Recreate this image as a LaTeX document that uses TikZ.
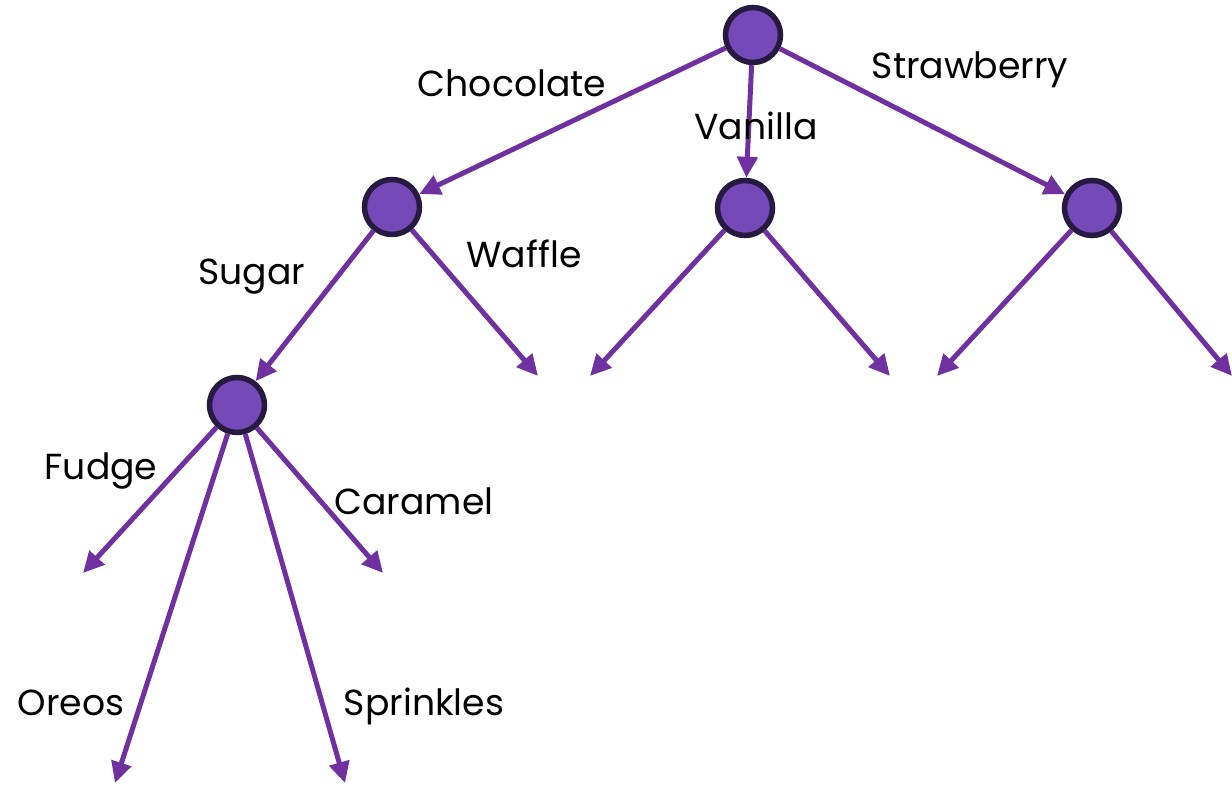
\documentclass[tikz,border=0pt]{standalone}
\usepackage{fontspec}
\setmainfont{Poppins}
\usetikzlibrary{arrows.meta}

\definecolor{edgepurple}{RGB}{112,48,160}
\definecolor{nodefill}{RGB}{117,73,184}
\definecolor{nodeline}{RGB}{38,26,64}

\begin{document}
\begin{tikzpicture}[
		x=0.02cm, y=-0.02cm,
		% estilos del arbol
		vertex/.style = {draw=nodeline, fill=nodefill, circle, line width=0.11cm, minimum size=1.1cm, inner sep=0pt},
		edge/.style = {draw=edgepurple, line width=0.1cm, -{Triangle[length=0.42cm, width=0.4cm]}},
		flavor/.style = {anchor=base, font=\fontsize{20.6}{24}\selectfont, inner sep=0pt}
		]
		\useasboundingbox (0,0) rectangle (1232,786);
		
		% --- NODOS ---
		\node [vertex] (root) at (753,35) {};
		\node [vertex] (choc) at (392,207) {};
		\node [vertex] (vani) at (745,208) {};
		\node [vertex] (straw) at (1092,208) {};
		\node [vertex] (sugar) at (237,405) {};
		
		% Hojas (extremos libres)
		\coordinate (waffle) at (538,376);
		\coordinate (vani_l) at (590,376);
		\coordinate (vani_r) at (890,376);
		\coordinate (straw_l) at (937,376);
		\coordinate (straw_r) at (1232,376);
		\coordinate (fudge) at (83,573);
		\coordinate (oreos) at (115,783);
		\coordinate (sprink) at (345,783);
		\coordinate (caramel) at (383,573);
		
		% --- CONEXIONES ---
		\draw [edge] (root) -- (choc);
		\draw [edge] (root) -- (vani);
		\draw [edge] (root) -- (straw);
		\draw [edge] (choc) -- (sugar);
		\draw [edge] (choc) -- (waffle);
		\draw [edge] (vani) -- (vani_l);
		\draw [edge] (vani) -- (vani_r);
		\draw [edge] (straw) -- (straw_l);
		\draw [edge] (straw) -- (straw_r);
		\draw [edge] (sugar) -- (fudge);
		\draw [edge] (sugar) -- (oreos);
		\draw [edge] (sugar) -- (sprink);
		\draw [edge] (sugar) -- (caramel);
		
		% --- ETIQUETAS ---
		\node [flavor] (l_choc) at (512,97) {Chocolate};
		\node [flavor] (l_vani) at (756,140) {Vanilla};
		\node [flavor] (l_straw) at (970,79) {Strawberry};
		\node [flavor] (l_sugar) at (252,285) {Sugar};
		\node [flavor] (l_waffle) at (524,268) {Waffle};
		\node [flavor] (l_fudge) at (101,480) {Fudge};
		\node [flavor] (l_caramel) at (414,515) {Caramel};
		\node [flavor] (l_oreos) at (71,716) {Oreos};
		\node [flavor] (l_sprink) at (424,716) {Sprinkles};
		
	\end{tikzpicture}
\end{document}
